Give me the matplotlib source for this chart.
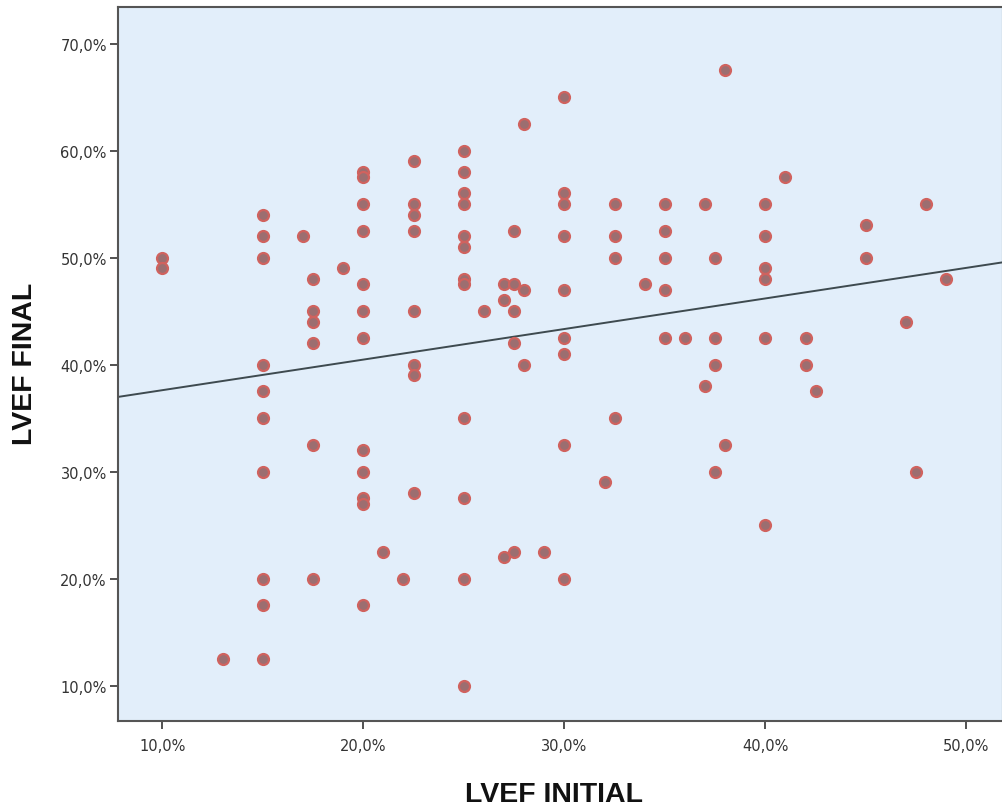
import numpy as np
import matplotlib
matplotlib.use("Agg")
import matplotlib.pyplot as plt
from matplotlib.ticker import FuncFormatter

# LVEF initial (%) and final (%) per patient
lvef_initial = [
    10, 10,
    13,
    15, 15, 15, 15, 15, 15, 15, 15, 15, 15,
    17, 19,
    17.5, 17.5, 17.5, 17.5, 17.5, 17.5,
    20, 20, 20, 20, 20, 20, 20, 20, 20, 20, 20, 20,
    21, 22,
    22.5, 22.5, 22.5, 22.5, 22.5, 22.5, 22.5, 22.5,
    25, 25, 25, 25, 25, 25, 25, 25, 25, 25, 25, 25,
    26, 27, 27, 27,
    27.5, 27.5, 27.5, 27.5, 27.5,
    28, 28, 28, 29,
    30, 30, 30, 30, 30, 30, 30, 30, 30,
    32, 32.5, 32.5, 32.5, 32.5, 34,
    35, 35, 35, 35, 35, 36,
    37, 37, 37.5, 37.5, 37.5, 37.5, 38, 38,
    40, 40, 40, 40, 40, 40, 41, 42, 42, 42.5,
    45, 45, 47, 47.5, 48, 49,
]
lvef_final = [
    50, 49,
    12.5,
    54, 52, 50, 40, 37.5, 35, 30, 20, 17.5, 12.5,
    52, 49,
    48, 45, 44, 42, 32.5, 20,
    58, 57.5, 55, 52.5, 47.5, 45, 42.5, 32, 30, 27.5, 27, 17.5,
    22.5, 20,
    59, 55, 54, 52.5, 45, 40, 39, 28,
    60, 58, 56, 55, 52, 51, 48, 47.5, 35, 27.5, 20, 10,
    45, 47.5, 46, 22,
    52.5, 47.5, 45, 42, 22.5,
    62.5, 47, 40, 22.5,
    65, 56, 55, 52, 47, 42.5, 41, 32.5, 20,
    29, 55, 52, 50, 35, 47.5,
    55, 52.5, 50, 47, 42.5, 42.5,
    55, 38, 50, 42.5, 40, 30, 67.5, 32.5,
    55, 52, 49, 48, 42.5, 25, 57.5, 42.5, 40, 37.5,
    53, 50, 44, 30, 55, 48,
]
x_ticks = [10, 20, 30, 40, 50]
y_ticks = [10, 20, 30, 40, 50, 60, 70]

x = np.array(lvef_initial, dtype=float)
y = np.array(lvef_final, dtype=float)

fig = plt.figure(figsize=(10.03, 8.12), dpi=100)
ax = fig.add_axes([0.1176, 0.111, 0.882, 0.879])
ax.set_facecolor('#e2eefa')

ax.scatter(x, y, s=62, facecolor='#9c6e70', edgecolor='#d0625e',
           linewidth=1.6, zorder=3)

xlim = (7.8, 51.8)
ylim = (6.7, 73.4)
slope, intercept = np.polyfit(x, y, 1)
xx = np.array(xlim)
ax.plot(xx, slope * xx + intercept, color='#3e4a4f', linewidth=1.4, zorder=2)

ax.set_xlim(*xlim)
ax.set_ylim(*ylim)
ax.set_xticks(x_ticks)
ax.set_yticks(y_ticks)
fmt = FuncFormatter(lambda v, p: f"{v:.1f}%".replace('.', ','))
ax.xaxis.set_major_formatter(fmt)
ax.yaxis.set_major_formatter(fmt)
ax.tick_params(axis='both', direction='out', length=6, width=1.2,
               color='#333333', labelsize=10.5, labelcolor='#333333')
ax.tick_params(axis='x', pad=6)
ax.tick_params(axis='y', pad=2)
for sp in ax.spines.values():
    sp.set_color('#555555')
    sp.set_linewidth(1.5)

fig.text(0.552, 0.0215, 'LVEF INITIAL', fontsize=20.5, fontweight='bold',
         family='Liberation Sans', ha='center', va='center', color='#111111')
fig.text(0.025, 0.5517, 'LVEF FINAL', fontsize=20.5, fontweight='bold',
         family='Liberation Sans', ha='center', va='center',
         rotation=90, color='#111111')

fig.savefig('out.png', dpi=100, facecolor='white')
